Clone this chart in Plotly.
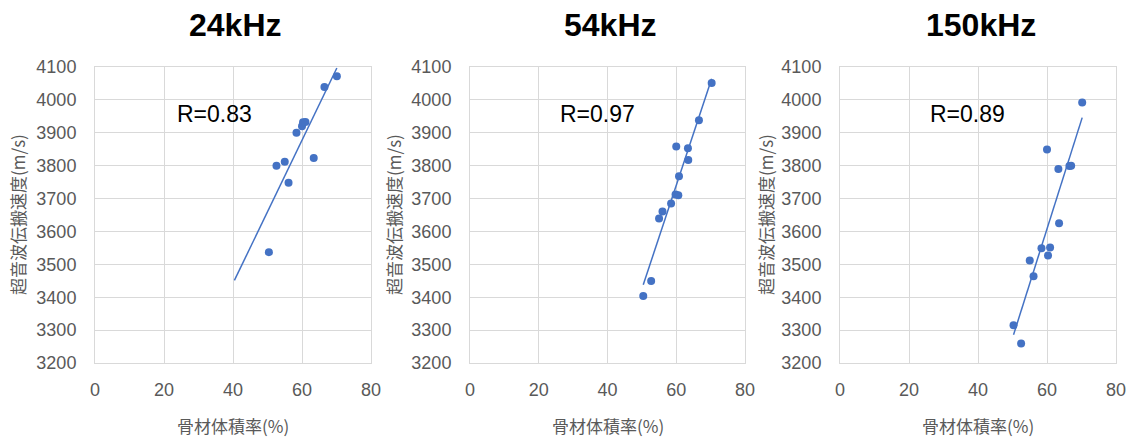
import numpy as np
import plotly.graph_objects as go

titles = ["24kHz", "54kHz", "150kHz"]
r_labels = ["R=0.83", "R=0.97", "R=0.89"]

x_24 = [50.4, 52.6, 55.0, 56.1, 58.4, 60.0, 60.3, 61.0, 63.4, 66.5, 70.1]
y_24 = [3537, 3800, 3812, 3748, 3900, 3920, 3932, 3933, 3823, 4039, 4072]

x_54 = [50.4, 52.7, 55.0, 56.0, 58.5, 59.8, 60.6, 60.0, 60.8, 63.4, 63.5, 66.6, 70.3]
y_54 = [3404, 3449, 3639, 3661, 3685, 3712, 3710, 3858, 3768, 3853, 3817, 3938, 4051]

x_150 = [50.3, 52.5, 55.0, 56.1, 58.4, 60.0, 60.3, 60.9, 63.3, 63.5, 66.5, 67.0, 70.2]
y_150 = [3315, 3259, 3512, 3464, 3549, 3849, 3527, 3551, 3790, 3625, 3799, 3800, 3992]

# Excel-style trendline backward forecast (x units)
trend_backward = [10, 0, 0]

x_ticks = [0, 20, 40, 60, 80]
y_ticks = [3200, 3300, 3400, 3500, 3600, 3700, 3800, 3900, 4000, 4100]

x_title = "骨材体積率(%)"
y_title = "超音波伝搬速度(m/s)"

datasets = [(x_24, y_24), (x_54, y_54), (x_150, y_150)]

W, H = 1132, 438
blue = "#4472C4"
grid = "#D9D9D9"
tick_col = "#595959"
cjk = "Noto Sans CJK JP"
latin = "Liberation Sans, Arial, sans-serif"

# pixel layout of the plot areas
px_left = [95, 470, 840]
px_right = [371, 745, 1116]
px_top, px_bottom = 67, 363
ytitle_px = [17, 393, 765]
r_pos_x = [34.5, 37, 37]
r_pos_y = 3958

fig = go.Figure()
layout = dict(
    width=W, height=H, margin=dict(l=0, r=0, t=0, b=0, autoexpand=False),
    paper_bgcolor="white", plot_bgcolor="white", showlegend=False,
)
annotations = []
for i, ((xs, ys), title, rl) in enumerate(zip(datasets, titles, r_labels)):
    n = "" if i == 0 else str(i + 1)
    xa, ya = "x" + n, "y" + n
    dom_x = [px_left[i] / W, px_right[i] / W]
    dom_y = [(H - px_bottom) / H, (H - px_top) / H]
    layout["xaxis" + n] = dict(
        domain=dom_x, range=[0, 80], tickvals=x_ticks, showgrid=True, gridcolor=grid,
        gridwidth=1, zeroline=False, showline=True, linecolor=grid, mirror=True,
        ticks="", tickfont=dict(family=latin, size=18, color=tick_col), anchor=ya,
        ticklabelstandoff=10, automargin=False,
    )
    layout["yaxis" + n] = dict(
        domain=dom_y, range=[3200, 4100], tickvals=y_ticks, showgrid=True, gridcolor=grid,
        gridwidth=1, zeroline=False, showline=True, linecolor=grid, mirror=True,
        ticks="", tickfont=dict(family=latin, size=18, color=tick_col), anchor=xa,
        ticklabelstandoff=14, automargin=False,
    )
    xs_a, ys_a = np.array(xs), np.array(ys)
    m, b = np.polyfit(xs_a, ys_a, 1)
    tx = np.array([xs_a.min() - trend_backward[i], xs_a.max()])
    fig.add_trace(go.Scatter(x=tx, y=m * tx + b, mode="lines",
                             line=dict(color=blue, width=1.5), xaxis=xa, yaxis=ya,
                             hoverinfo="skip"))
    fig.add_trace(go.Scatter(x=xs, y=ys, mode="markers",
                             marker=dict(color=blue, size=8), xaxis=xa, yaxis=ya))
    cx = (px_left[i] + px_right[i]) / 2 / W
    annotations.append(dict(text="<b>" + title + "</b>", x=cx + 3 / W, y=(H - 25) / H,
                            xref="paper", yref="paper",
                            showarrow=False, font=dict(family=latin, size=32, color="black"),
                            xanchor="center", yanchor="middle"))
    annotations.append(dict(text=rl, x=r_pos_x[i], y=r_pos_y, xref=xa, yref=ya,
                            showarrow=False, font=dict(family=latin, size=23, color="black"),
                            xanchor="center", yanchor="middle"))
    annotations.append(dict(text=x_title, x=cx, y=(H - 425) / H, xref="paper", yref="paper",
                            showarrow=False, font=dict(family=cjk, size=17, color=tick_col),
                            xanchor="center", yanchor="middle"))
    annotations.append(dict(text=y_title, x=ytitle_px[i] / W, y=(H - 215) / H,
                            xref="paper", yref="paper", textangle=-90,
                            showarrow=False, font=dict(family=cjk, size=17, color=tick_col),
                            xanchor="center", yanchor="middle"))

layout["annotations"] = annotations
fig.update_layout(**layout)
fig.write_html("out.html")
